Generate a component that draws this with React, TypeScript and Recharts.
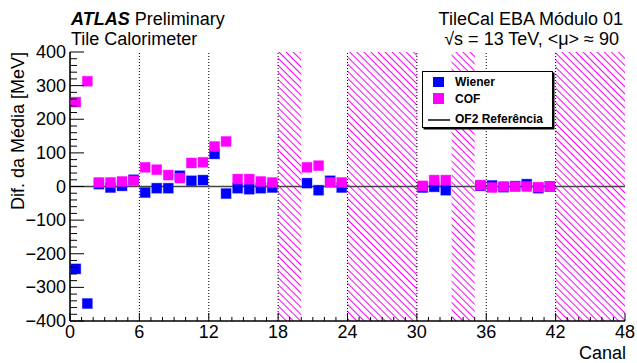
import React from "react";
import {
  ScatterChart,
  Scatter,
  XAxis,
  YAxis,
  ReferenceLine,
  ReferenceArea,
  Legend,
} from "recharts";

const FONT = "'Liberation Sans', Arial, Helvetica, sans-serif";

// channels with data (bins centered at channel + 0.5)
const channels = [
  0, 1, 2, 3, 4, 5, 6, 7, 8, 9, 10, 11, 12, 13, 14, 15, 16, 17, 20, 21, 22, 23,
  30, 31, 32, 35, 36, 37, 38, 39, 40, 41,
];
const wiener = [
  -245, -348, 7, -3, 2, 20, -18, -5, -5, 32, 17, 19, 97, -21, -5, -8, -5, -3,
  10, -11, 17, -3, -3, -1, -11, 2, 3, -2, 1, 7, -5, 0,
];
const cof = [
  251, 313, 12, 12, 15, 17, 57, 50, 34, 25, 70, 72, 119, 134, 22, 22, 15, 12,
  57, 62, 12, 12, 2, 19, 19, 4, -3, 0, 0, 0, -2, 0,
];

// masked (hatched) channel ranges
const masked: [number, number][] = [
  [18, 20],
  [24, 30],
  [33, 35],
  [42, 48],
];
const dottedX = [6, 12, 18, 24, 30, 36, 42];

const xMajor = [0, 6, 12, 18, 24, 30, 36, 42, 48];
const yMajor = [-400, -300, -200, -100, 0, 100, 200, 300, 400];
const xTicks = Array.from({ length: 49 }, (_, i) => i);
const yTicks = Array.from({ length: 41 }, (_, i) => -400 + i * 20);

const wienerData = channels.map((c, i) => ({ x: c + 0.5, y: wiener[i] }));
const cofData = channels.map((c, i) => ({ x: c + 0.5, y: cof[i] }));

const fmt = (v: number) => (v < 0 ? "\u2212" + Math.abs(v) : String(v));

const square = (color: string) => (p: any) => {
  const s = 10;
  return (
    <rect
      x={p.cx - s / 2}
      y={p.cy - s / 2}
      width={s}
      height={s}
      fill={color}
      stroke={color}
      strokeOpacity={0.35}
      strokeWidth={1}
    />
  );
};

const BottomTick = (p: any) => {
  const v = p.payload.value;
  const major = xMajor.includes(v);
  return (
    <g>
      <line x1={p.x} x2={p.x} y1={p.y} y2={p.y - (major ? 8 : 4)} stroke="#000" />
      {major && (
        <text x={p.x} y={p.y + 17} textAnchor="middle" fontSize={18} fontFamily={FONT} fill="#000">
          {v}
        </text>
      )}
    </g>
  );
};

const TopTick = (p: any) => {
  const major = xMajor.includes(p.payload.value);
  return <line x1={p.x} x2={p.x} y1={p.y} y2={p.y + (major ? 8 : 4)} stroke="#000" />;
};

const LeftTick = (p: any) => {
  const v = p.payload.value;
  const major = yMajor.includes(v);
  return (
    <g>
      <line x1={p.x} x2={p.x + (major ? 14 : 7)} y1={p.y} y2={p.y} stroke="#000" />
      {major && (
        <text x={p.x - 4} y={p.y + 6} textAnchor="end" fontSize={18} fontFamily={FONT} fill="#000">
          {fmt(v)}
        </text>
      )}
    </g>
  );
};

const RightTick = (p: any) => {
  const major = yMajor.includes(p.payload.value);
  return <line x1={p.x} x2={p.x - (major ? 14 : 7)} y1={p.y} y2={p.y} stroke="#000" />;
};

const LegendBox = () => (
  <div
    style={{
      position: "relative",
      width: 131,
      height: 57,
      boxSizing: "border-box",
      border: "1px solid #000",
      boxShadow: "1.5px 1.5px 0 #000",
      background: "#fff",
      fontFamily: FONT,
      fontWeight: "bold",
      fontSize: 12,
      lineHeight: "14px",
      color: "#000",
    }}
  >
    <div style={{ position: "absolute", left: 10, top: 5, width: 11, height: 10, background: "#0000ff" }} />
    <span style={{ position: "absolute", left: 32, top: 3 }}>Wiener</span>
    <div style={{ position: "absolute", left: 10, top: 21, width: 11, height: 11, background: "#ff00ff" }} />
    <span style={{ position: "absolute", left: 32, top: 20 }}>COF</span>
    <div style={{ position: "absolute", left: 5, top: 47, width: 22, height: 1.5, background: "#444" }} />
    <span style={{ position: "absolute", left: 32, top: 40 }}>OF2 Referência</span>
  </div>
);

export default function App() {
  return (
    <div style={{ position: "absolute", left: 0, top: 0, width: 637, height: 363, background: "#fff" }}>
      <ScatterChart width={637} height={363} margin={{ top: 52, right: 12, bottom: 12, left: 0 }}>
        <defs>
          <pattern
            id="hatch"
            patternUnits="userSpaceOnUse"
            width={5}
            height={5}
            patternTransform="rotate(-45)"
          >
            <line
              x1={0.5}
              y1={0}
              x2={0.5}
              y2={5}
              stroke="#ff00ff"
              strokeWidth={1.1}
              shapeRendering="crispEdges"
            />
          </pattern>
        </defs>
        <XAxis
          type="number"
          dataKey="x"
          domain={[0, 48]}
          ticks={xTicks}
          interval={0}
          height={30}
          tickSize={0}
          tickMargin={0}
          tick={BottomTick}
          tickLine={false}
          axisLine={{ stroke: "#000", strokeWidth: 1.6 }}
          allowDataOverflow
        />
        <XAxis
          xAxisId="top"
          orientation="top"
          type="number"
          dataKey="x"
          domain={[0, 48]}
          ticks={xTicks}
          interval={0}
          height={0}
          tickSize={0}
          tickMargin={0}
          tick={TopTick}
          tickLine={false}
          axisLine={{ stroke: "#000", strokeWidth: 1.6 }}
        />
        <YAxis
          type="number"
          dataKey="y"
          domain={[-400, 400]}
          ticks={yTicks}
          interval={0}
          width={70}
          tickSize={0}
          tickMargin={0}
          tick={LeftTick}
          tickLine={false}
          axisLine={{ stroke: "#000", strokeWidth: 1.6 }}
          allowDataOverflow
        />
        <YAxis
          yAxisId="right"
          orientation="right"
          type="number"
          dataKey="y"
          domain={[-400, 400]}
          ticks={yTicks}
          interval={0}
          width={0}
          tickSize={0}
          tickMargin={0}
          tick={RightTick}
          tickLine={false}
          axisLine={{ stroke: "#000", strokeWidth: 1.6 }}
        />
        {masked.map(([a, b]) => (
          <ReferenceArea key={a} x1={a} x2={b} y1={-400} y2={400} fill="url(#hatch)" fillOpacity={1} stroke="none" />
        ))}
        {dottedX.map((v) => (
          <ReferenceLine key={v} x={v} stroke="#000" strokeWidth={1} strokeDasharray="1 2" />
        ))}
        <Scatter name="Wiener" data={wienerData} fill="#0000ff" shape={square("#0000ff")} isAnimationActive={false} />
        <Scatter name="COF" data={cofData} fill="#ff00ff" shape={square("#ff00ff")} isAnimationActive={false} />
        <ReferenceLine y={0} stroke="#444" strokeWidth={1.5} />
        <Legend
          layout="vertical"
          verticalAlign="middle"
          align="center"
          content={LegendBox}
          wrapperStyle={{ left: 422, top: 71, width: 131, height: 57 }}
        />
      </ScatterChart>
      <svg
        width={637}
        height={363}
        style={{ position: "absolute", left: 0, top: 0, pointerEvents: "none" }}
        fontFamily={FONT}
      >
        <text x={71} y={25} fontSize={18} fill="#000">
          <tspan fontWeight="bold" fontStyle="italic">ATLAS</tspan> Preliminary
        </text>
        <text x={71} y={45} fontSize={18} fill="#000">
          Tile Calorimeter
        </text>
        <text x={623} y={25} fontSize={18} fill="#000" textAnchor="end">
          TileCal EBA Módulo 01
        </text>
        <text x={619} y={45} fontSize={18} fill="#000" textAnchor="end">
          √s = 13 TeV, &lt;μ&gt; ≈ 90
        </text>
        <text
          x={0}
          y={0}
          fontSize={18}
          fill="#000"
          textAnchor="end"
          transform="translate(24,52) rotate(-90)"
        >
          Dif. da Média [MeV]
        </text>
        <text x={626} y={359} fontSize={18} fill="#000" textAnchor="end">
          Canal
        </text>
      </svg>
    </div>
  );
}
